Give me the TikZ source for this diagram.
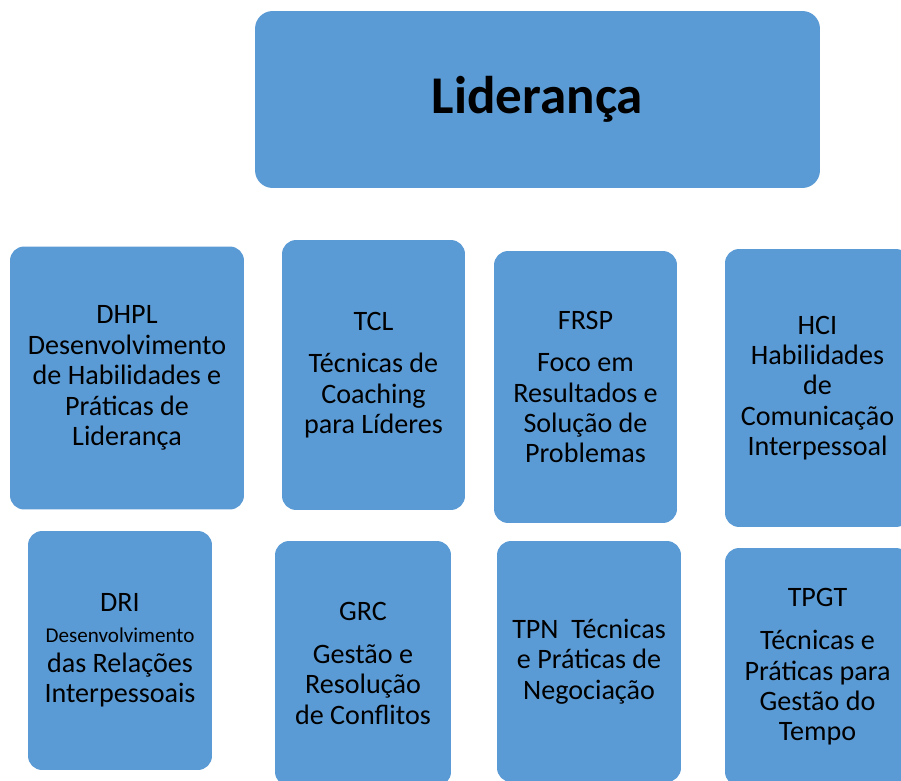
\documentclass[tikz,border=0pt]{standalone}
\usepackage{fontspec}
\setmainfont{Carlito}
\usepackage{tikz}
\definecolor{boxblue}{HTML}{5B9BD5}

\begin{document}
\begin{tikzpicture}[x=0.02cm, y=-0.02cm,
    box/.style={fill=boxblue, draw=none, rounded corners=8pt, align=center, inner sep=0pt,
                font=\fontsize{16}{17.3}\selectfont}]
        \clip (0,0) rectangle (901,780);
        % titulo
        \node[box, rounded corners=10pt, minimum width=11.3cm, minimum height=3.54cm,
              font=\fontsize{30.2}{34}\selectfont\bfseries] (lid) at (537.5,99.5) {Liderança};
        % primeira linha
        \node[box, minimum width=4.68cm, minimum height=5.26cm] (dhpl) at (127,378)
            {DHPL\\Desenvolvimento\\de Habilidades e\\Práticas de\\Liderança};
        \node[box, minimum width=3.66cm, minimum height=5.4cm] (tcl) at (373.5,375)
            {TCL\\[7pt]Técnicas de\\Coaching\\para Líderes};
        \node[box, minimum width=3.66cm, minimum height=5.44cm] (frsp) at (585.5,387)
            {FRSP\\[7pt]Foco em\\Resultados e\\Solução de\\Problemas};
        \node[box, minimum width=3.7cm, minimum height=5.56cm] (hci) at (817.5,388)
            {HCI\\Habilidades\\de\\Comunicação\\Interpessoal};
        % segunda linha
        \node[box, minimum width=3.68cm, minimum height=4.78cm] (dri) at (120,650.5)
            {DRI\\{\fontsize{12}{15}\selectfont Desenvolvimento}\\das Relações\\Interpessoais};
        \node[box, minimum width=3.52cm, minimum height=4.9cm] (grc) at (363,663.5)
            {GRC\\[7pt]Gestão e\\Resolução\\de Conflitos};
        \node[box, minimum width=3.68cm, minimum height=4.82cm] (tpn) at (589,661.5)
            {TPN~ Técnicas\\e Práticas de\\Negociação};
        \node[box, minimum width=3.7cm, minimum height=4.76cm] (tpgt) at (817.5,667)
            {TPGT\\[7pt]Técnicas e\\Práticas para\\Gestão do\\Tempo};
    \end{tikzpicture}
\end{document}
